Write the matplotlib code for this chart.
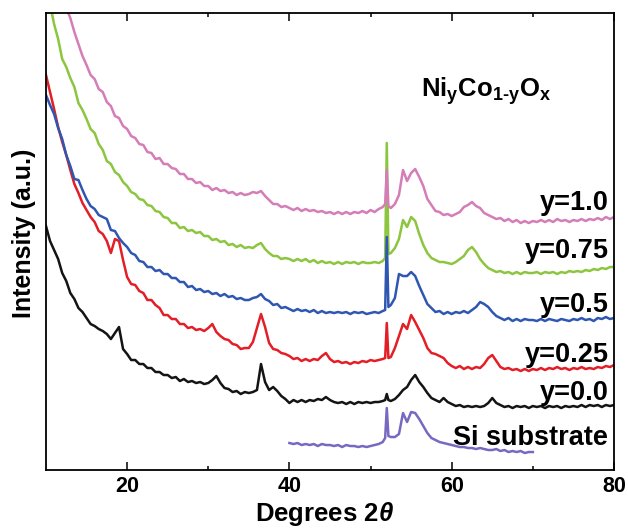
import numpy as np
import matplotlib
matplotlib.use("Agg")
import matplotlib.pyplot as plt

plt.rcParams["font.family"] = ["Liberation Sans", "DejaVu Sans"]
plt.rcParams["font.weight"] = "bold"
plt.rcParams["mathtext.fontset"] = "custom"
plt.rcParams["mathtext.rm"] = "Liberation Sans:bold"
plt.rcParams["mathtext.bf"] = "Liberation Sans:bold"
plt.rcParams["mathtext.it"] = "Liberation Sans:bold:italic"

# 2-theta sampling: every 0.5 degree plus two extra points around the Si line
base_theta = np.arange(10.0, 80.001, 0.5)
si_line_theta = [51.8, 52.2]
two_theta = np.sort(np.concatenate([base_theta, si_line_theta]))

# Intensities (a.u., stacked), one value per 2-theta point
pink_y10 = [
    540, 522, 506, 490, 476, 462, 452, 438, 426, 414,   # 10-14.5
    405, 395, 391, 381, 378, 368, 364, 354, 352, 344,   # 15
    341, 334, 332, 326, 325, 318, 317, 311, 312, 306,   # 20
    306, 302, 301, 296, 296, 291, 291, 287, 288, 284,   # 25
    284, 280, 282, 279, 280, 277, 278, 275, 277, 275,   # 30
    276, 278, 277, 279, 274, 270, 266, 266, 263, 264,   # 35
    262, 260, 262, 259, 261, 259, 260, 258, 259, 257,   # 40
    258, 256, 258, 256, 258, 256, 258, 257, 259, 257,   # 45
    260, 258, 261, 263, 266, 300, 264, 262, 266, 275, 300, 289,  # 50
    297, 301, 293, 284, 271, 265, 259, 258, 255, 256,   # 55
    254, 256, 258, 263, 265, 268, 264, 262, 257, 255,   # 60
    253, 251, 252, 249, 251, 248, 250, 247, 249, 247,   # 65
    249, 248, 250, 248, 250, 248, 251, 249, 250, 248,   # 70
    250, 249, 251, 249, 251, 250, 252, 250, 253, 251,   # 75
    253]

green_y075 = [
    485, 466, 446, 431, 411, 403, 392, 383, 367, 360,
    351, 341, 337, 326, 320, 309, 306, 298, 295, 288,
    284, 278, 276, 271, 270, 265, 264, 259, 258, 253,
    252, 247, 247, 242, 243, 239, 240, 237, 238, 234,
    234, 230, 231, 228, 229, 225, 226, 223, 225, 222,
    223, 222, 225, 227, 221, 217, 214, 214, 211, 212,
    211, 209, 211, 209, 211, 208, 210, 207, 209, 207,
    208, 206, 208, 206, 208, 207, 208, 206, 208, 207,
    207, 208, 207, 209, 212, 327, 216, 217, 222, 231, 250, 243,
    253, 249, 236, 225, 217, 212, 210, 208, 208, 207,
    206, 208, 211, 214, 220, 223, 218, 211, 206, 202,
    200, 198, 199, 197, 198, 196, 198, 196, 198, 197,
    197, 198, 196, 198, 197, 198, 196, 198, 197, 199,
    198, 199, 198, 200, 199, 201, 200, 202, 201, 203,
    203]

blue_y05 = [
    375, 365, 356, 342, 331, 315, 304, 291, 290, 280,
    271, 264, 261, 255, 253, 251, 240, 239, 232, 227,
    223, 217, 215, 209, 208, 203, 203, 199, 200, 196,
    196, 192, 192, 188, 188, 183, 184, 180, 181, 178,
    179, 176, 177, 174, 176, 173, 174, 171, 172, 170,
    170, 172, 173, 176, 171, 169, 165, 166, 162, 163,
    161, 159, 161, 159, 160, 158, 160, 157, 159, 157,
    158, 157, 158, 157, 158, 156, 158, 157, 158, 156,
    157, 158, 157, 159, 160, 233, 163, 165, 172, 196, 194, 194,
    198, 194, 184, 175, 166, 162, 158, 159, 156, 158,
    156, 158, 157, 159, 157, 160, 163, 168, 166, 163,
    158, 154, 152, 150, 152, 149, 151, 149, 151, 150,
    150, 149, 151, 149, 151, 150, 149, 151, 150, 149,
    151, 150, 152, 150, 151, 149, 152, 151, 153, 151,
    152]

red_y025 = [
    395, 378, 361, 343, 328, 315, 300, 286, 277, 267,
    260, 253, 248, 239, 236, 229, 217, 231, 229, 210,
    193, 186, 185, 179, 177, 170, 170, 165, 162, 155,
    155, 151, 151, 146, 146, 142, 143, 140, 141, 139,
    142, 146, 138, 134, 131, 130, 126, 125, 121, 122,
    122, 128, 142, 156, 143, 127, 121, 120, 117, 116,
    114, 111, 112, 109, 111, 109, 111, 110, 114, 117,
    111, 108, 109, 107, 108, 106, 108, 107, 109, 108,
    110, 109, 110, 111, 112, 147, 112, 113, 122, 134, 146, 141,
    155, 148, 140, 132, 122, 117, 116, 114, 112, 107,
    104, 102, 104, 101, 103, 101, 103, 102, 106, 112,
    115, 109, 103, 101, 102, 100, 101, 99, 101, 99,
    101, 100, 102, 100, 102, 101, 103, 101, 102, 100,
    102, 101, 103, 101, 102, 101, 103, 102, 104, 103,
    105]

black_y00 = [
    244, 229, 220, 211, 197, 189, 177, 171, 162, 158,
    152, 146, 144, 141, 139, 136, 131, 137, 143, 121,
    116, 110, 110, 106, 106, 102, 102, 98, 98, 95,
    95, 92, 93, 89, 91, 88, 89, 87, 88, 86,
    87, 90, 94, 87, 82, 81, 78, 79, 76, 78,
    77, 78, 80, 106, 88, 80, 83, 79, 74, 71,
    67, 70, 68, 70, 68, 70, 69, 71, 70, 73,
    70, 68, 67, 68, 66, 68, 66, 68, 67, 68,
    67, 68, 68, 69, 70, 76, 70, 69, 71, 75, 80, 83,
    90, 95, 88, 83, 77, 72, 70, 68, 72, 68,
    66, 64, 65, 63, 64, 63, 64, 63, 64, 67,
    72, 67, 65, 63, 64, 62, 64, 63, 64, 62,
    64, 63, 64, 62, 64, 63, 64, 62, 64, 63,
    64, 63, 65, 63, 65, 64, 65, 63, 65, 64,
    65]

# Bare Si substrate, measured from 40 to 70 degrees
si_substrate = [
    27, 26, 27, 25, 26, 25, 26, 24, 26, 25,
    25, 24, 25, 23, 25, 24, 24, 23, 24, 23,
    24, 25, 26, 28, 32, 62, 34, 33, 33, 36, 57, 48,
    58, 57, 51, 44, 37, 32, 30, 28, 27, 26,
    25, 24, 23, 23, 22, 22, 21, 22, 21, 20,
    20, 21, 19, 20, 18, 19, 18, 19, 17, 18,
    18]
si_range = (40.0, 70.0)

series_labels = ["y=1.0", "y=0.75", "y=0.5", "y=0.25", "y=0.0", "Si substrate"]
label_heights = [260, 212, 158, 108, 70, 25]
colors = ["#d47db7", "#8cc63f", "#2f57b2", "#e31e26", "#141414", "#7868c2"]

fig = plt.figure(figsize=(6.28, 5.29), dpi=100)
ax = fig.add_axes([0.0732, 0.1115, 0.9045, 0.8639])

si_mask = (two_theta >= si_range[0] - 1e-9) & (two_theta <= si_range[1] + 1e-9)
curves = {
    "y=1.0": (two_theta, pink_y10),
    "y=0.75": (two_theta, green_y075),
    "y=0.5": (two_theta, blue_y05),
    "y=0.25": (two_theta, red_y025),
    "y=0.0": (two_theta, black_y00),
    "Si substrate": (two_theta[si_mask], si_substrate),
}
draw_order = ["y=0.75", "y=1.0", "y=0.25", "y=0.5", "y=0.0", "Si substrate"]
for name in draw_order:
    xs, ys = curves[name]
    c = colors[series_labels.index(name)]
    ax.plot(xs, ys, color=c, lw=1.8, solid_joinstyle="round")

for name, h in zip(series_labels, label_heights):
    ax.text(79.3, h, name, ha="right", va="baseline", fontsize=19.5,
            fontweight="bold", color="black")

ax.text(64.2, 373, r"$\mathrm{Ni_{y}Co_{1\text{-}y}O_{x}}$", ha="center",
        va="baseline", fontsize=18.5)

ax.set_xlim(10, 80)
ax.set_ylim(0, 457)
ax.set_xticks([20, 40, 60, 80])
ax.set_xticks([30, 50, 70], minor=True)
ax.set_yticks([])
ax.tick_params(axis="x", which="major", direction="in", length=6, width=1.1,
               top=True, labelsize=15.5, pad=4)
ax.tick_params(axis="x", which="minor", direction="in", length=3, width=1.1,
               top=True)
for sp in ax.spines.values():
    sp.set_linewidth(1.3)

ax.set_xlabel(r"Degrees 2$\theta$", fontsize=18.5, fontweight="bold")
ax.xaxis.set_label_coords(0.491, -0.0656)
ax.set_ylabel("Intensity (a.u.)", fontsize=18, fontweight="bold")
ax.yaxis.set_label_coords(-0.0176, 0.519)

fig.savefig("out.png", dpi=100)
